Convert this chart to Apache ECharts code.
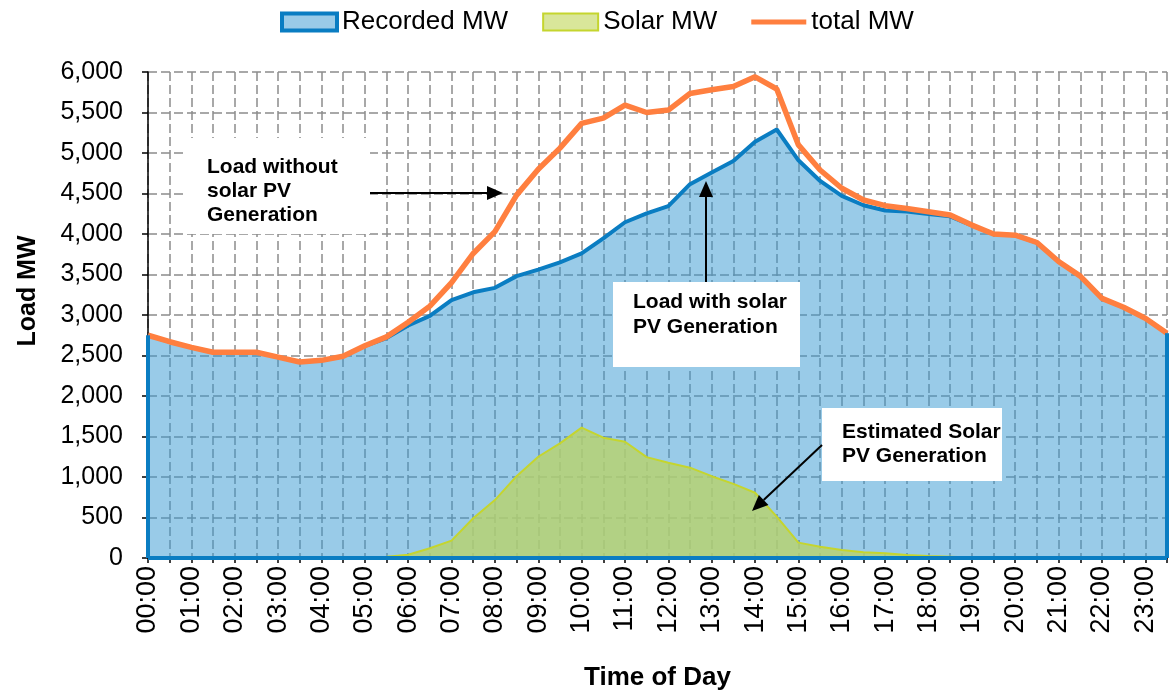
<!DOCTYPE html>
<html>
<head>
<meta charset="utf-8">
<script src="https://cdn.jsdelivr.net/npm/echarts@6/dist/echarts.min.js"></script>
<style>
html,body{margin:0;padding:0;background:#fff;}
#chart{width:1172px;height:693px;}
</style>
</head>
<body>
<div id="chart"></div>
<script>
// Categories: half-hourly time of day
var times = ["00:00","00:30","01:00","01:30","02:00","02:30","03:00","03:30","04:00","04:30",
  "05:00","05:30","06:00","06:30","07:00","07:30","08:00","08:30","09:00","09:30",
  "10:00","10:30","11:00","11:30","12:00","12:30","13:00","13:30","14:00","14:30",
  "15:00","15:30","16:00","16:30","17:00","17:30","18:00","18:30","19:00","19:30",
  "20:00","20:30","21:00","21:30","22:00","22:30","23:00","23:30"];

// Recorded load (MW)
var recordedMW = [2750,2670,2600,2540,2540,2540,2480,2420,2440,2490,
  2620,2715,2870,2990,3185,3280,3335,3480,3560,3650,
  3760,3945,4145,4255,4345,4615,4760,4900,5140,5290,
  4910,4655,4470,4355,4290,4278,4248,4218,4105,4000,
  3985,3895,3660,3480,3205,3095,2960,2775];

// Estimated solar PV generation (MW)
var solarMW = [0,0,0,0,0,0,0,0,0,0,
  0,15,40,120,215,490,715,1010,1250,1415,
  1610,1485,1435,1245,1175,1115,1010,915,805,510,
  190,140,100,70,58,37,25,15,5,0,
  0,0,0,0,0,0,0,0];

// Load without solar PV (MW)
var totalMW = [2750,2670,2600,2540,2540,2540,2480,2420,2440,2490,
  2620,2730,2910,3110,3400,3760,4030,4480,4800,5060,
  5365,5430,5590,5500,5530,5735,5780,5820,5940,5790,
  5100,4790,4565,4420,4350,4315,4275,4235,4110,4000,
  3985,3895,3660,3480,3205,3095,2960,2775];

var yTicks = {min: 0, max: 6000, interval: 500};

var FONT = '"Liberation Sans", Arial, sans-serif';
var last = times.length - 1;

function arrow(x1, y1, x2, y2) {
  var ang = Math.atan2(y2 - y1, x2 - x1);
  var L = 16, W = 7;
  var bx = x2 - L * Math.cos(ang), by = y2 - L * Math.sin(ang);
  var px = -Math.sin(ang) * W, py = Math.cos(ang) * W;
  return [
    {type: 'line', silent: true, z: 100,
     shape: {x1: x1, y1: y1, x2: bx, y2: by},
     style: {stroke: '#000', lineWidth: 2}},
    {type: 'polygon', silent: true, z: 100,
     shape: {points: [[x2, y2], [bx + px, by + py], [bx - px, by - py]]},
     style: {fill: '#000'}}
  ];
}

function box(x, y, w, h, tx, ty, lh, text) {
  return [
    {type: 'rect', silent: true, z: 99,
     shape: {x: x, y: y, width: w, height: h},
     style: {fill: '#fff'}},
    {type: 'text', silent: true, z: 101, x: tx, y: ty,
     style: {text: text, font: 'bold 21px ' + FONT, fill: '#000', lineHeight: lh}}
  ];
}

var graphics = [].concat(
  box(183, 138, 187, 96, 207, 155, 24, 'Load without\nsolar PV\nGeneration'),
  arrow(370, 193, 503, 193),
  box(613, 282, 187, 85, 633, 290, 25, 'Load with solar\nPV Generation'),
  arrow(706, 282, 706, 181),
  box(822, 408, 180, 73, 842, 420, 24, 'Estimated Solar\nPV Generation'),
  arrow(822, 445, 752, 511),
  [{type: 'text', silent: true, x: 28, y: 291, rotation: Math.PI / 2,
    style: {text: 'Load MW', font: 'bold 25px ' + FONT, fill: '#000',
            align: 'center', verticalAlign: 'middle'}}]
);

var chart = echarts.init(document.getElementById('chart'), null, {renderer: 'canvas'});
chart.setOption({
  animation: false,
  backgroundColor: '#fff',
  textStyle: {fontFamily: FONT},
  legend: {
    left: 275, top: 4,
    itemWidth: 55, itemHeight: 17, itemGap: 34,
    textStyle: {fontSize: 26, color: '#000', fontFamily: FONT},
    data: [
      {name: 'Recorded MW', icon: 'rect',
       itemStyle: {color: '#9ACBE8', borderColor: '#0A7DC2', borderWidth: 4}},
      {name: 'Solar MW', icon: 'rect',
       itemStyle: {color: '#D9E69A', borderColor: '#C5D52E', borderWidth: 2}},
      {name: 'total MW', icon: 'path://M0,0 L55,0 L55,5 L0,5 Z',
       itemStyle: {color: '#FF7F3F'}}
    ]
  },
  grid: {left: 148, right: 5, top: 72, bottom: 135, containLabel: false, outerBoundsMode: 'none'},
  xAxis: {
    type: 'category',
    data: times,
    boundaryGap: false,
    name: 'Time of Day',
    nameLocation: 'middle',
    nameGap: 107,
    nameTextStyle: {fontSize: 26, fontWeight: 'bold', color: '#000', fontFamily: FONT},
    axisLine: {show: true, lineStyle: {color: '#000', width: 1.5}},
    axisTick: {show: true, interval: 0, length: 5, lineStyle: {color: '#000', width: 1.5}},
    axisLabel: {interval: 1, rotate: 90, margin: 8, fontSize: 27, color: '#000', fontFamily: FONT},
    splitLine: {show: true, interval: 0, lineStyle: {color: '#8c8c8c', width: 1.5, type: [9, 4]}}
  },
  yAxis: {
    type: 'value',
    min: yTicks.min, max: yTicks.max, interval: yTicks.interval,
    axisLine: {show: true, lineStyle: {color: '#000', width: 1.5}},
    axisTick: {show: true, length: 6, lineStyle: {color: '#000', width: 1.5}},
    axisLabel: {margin: 25, fontSize: 25, color: '#000', fontFamily: FONT,
      formatter: function (v) { return v.toLocaleString('en-US'); }},
    splitLine: {show: true, lineStyle: {color: '#8c8c8c', width: 1.5, type: [9, 4]}}
  },
  series: [
    {
      name: 'Recorded MW', type: 'line', data: recordedMW,
      symbol: 'none', z: 2,
      lineStyle: {color: '#0A7DC2', width: 4},
      itemStyle: {color: '#0A7DC2'},
      areaStyle: {color: 'rgba(51,151,209,0.5)', opacity: 1},
      markLine: {
        silent: true, symbol: 'none', animation: false,
        label: {show: false},
        lineStyle: {color: '#0A7DC2', width: 4, type: 'solid'},
        data: [
          [{coord: [times[last], 0]}, {coord: [times[last], recordedMW[last]]}],
          [{coord: [times[0], 0]}, {coord: [times[0], recordedMW[0]]}],
          [{coord: [times[0], 0]}, {coord: [times[last], 0]}]
        ]
      }
    },
    {
      name: 'Solar MW', type: 'line', data: solarMW,
      symbol: 'none', z: 3,
      lineStyle: {color: '#C5D52E', width: 2},
      itemStyle: {color: '#C5D52E'},
      areaStyle: {color: 'rgba(184,210,106,0.8)', opacity: 1}
    },
    {
      name: 'total MW', type: 'line', data: totalMW,
      symbol: 'none', z: 4,
      lineStyle: {color: '#FF7F3F', width: 5.5},
      itemStyle: {color: '#FF7F3F'}
    }
  ],
  graphic: graphics
});
</script>
</body>
</html>
